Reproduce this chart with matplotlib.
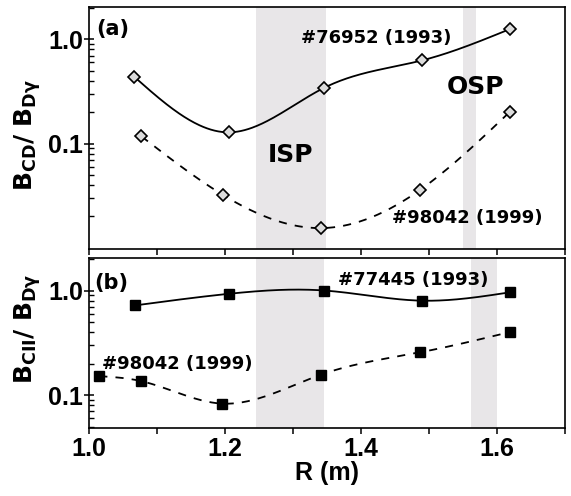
import numpy as np
import matplotlib
matplotlib.use("Agg")
import matplotlib.pyplot as plt
from matplotlib.ticker import LogLocator, NullFormatter, FixedLocator

# panel (a): B_CD / B_Dgamma
r_a_93 = [1.066, 1.205, 1.346, 1.490, 1.619]
v_a_93 = [0.44, 0.128, 0.344, 0.63, 1.26]
r_a_99 = [1.077, 1.197, 1.341, 1.487, 1.618]
v_a_99 = [0.117, 0.032, 0.0154, 0.036, 0.20]

# panel (b): B_CII / B_Dgamma
r_b_93 = [1.067, 1.205, 1.346, 1.489, 1.618]
v_b_93 = [0.72, 0.93, 1.0, 0.80, 0.96]
r_b_99 = [1.015, 1.077, 1.196, 1.341, 1.487, 1.618]
v_b_99 = [0.152, 0.136, 0.083, 0.157, 0.257, 0.40]

# strike point regions (R)
isp_a = [1.245, 1.348]
osp_a = [1.550, 1.569]
isp_b = [1.245, 1.345]
osp_b = [1.561, 1.599]

xticks = [1.0, 1.1, 1.2, 1.3, 1.4, 1.5, 1.6, 1.7]
xlabels = ["1.0", "", "1.2", "", "1.4", "", "1.6", ""]


def smooth(x, y, n=300):
    # natural cubic spline through the points, in log space
    x = np.asarray(x, float)
    ly = np.log10(y)
    m = len(x)
    h = np.diff(x)
    A = np.zeros((m, m))
    rhs = np.zeros(m)
    A[0, 0] = A[-1, -1] = 1
    for i in range(1, m - 1):
        A[i, i - 1] = h[i - 1]
        A[i, i] = 2 * (h[i - 1] + h[i])
        A[i, i + 1] = h[i]
        rhs[i] = 3 * ((ly[i + 1] - ly[i]) / h[i] - (ly[i] - ly[i - 1]) / h[i - 1])
    c = np.linalg.solve(A, rhs)
    b = (ly[1:] - ly[:-1]) / h - h * (2 * c[:-1] + c[1:]) / 3
    d = (c[1:] - c[:-1]) / (3 * h)
    xs = np.linspace(x[0], x[-1], n)
    idx = np.clip(np.searchsorted(x, xs) - 1, 0, m - 2)
    dx = xs - x[idx]
    ys = ly[idx] + b[idx] * dx + c[idx] * dx ** 2 + d[idx] * dx ** 3
    return xs, 10 ** ys


plt.rcParams["mathtext.fontset"] = "dejavusans"
tickfont = {"family": ["Liberation Sans", "DejaVu Sans"], "weight": "bold", "size": 18}
notefont = {"family": "DejaVu Sans", "weight": "bold", "size": 13}
panelfont = {"family": "DejaVu Sans", "weight": "bold", "size": 15}
shade = "#e8e6e8"

fig = plt.figure(figsize=(5.71, 4.96), dpi=100)
ax1 = fig.add_axes([0.156, 0.498, 0.834, 0.488])
ax2 = fig.add_axes([0.156, 0.138, 0.834, 0.342])

# ---- panel (a)
ax1.axvspan(*isp_a, color=shade, lw=0, zorder=0)
ax1.axvspan(*osp_a, color=shade, lw=0, zorder=0)
xs, ys = smooth(r_a_93, v_a_93)
ax1.plot(xs, ys, "k-", lw=1.3, zorder=2)
xs, ys = smooth(r_a_99, v_a_99)
ax1.plot(xs, ys, "k", lw=1.3, dashes=(4.5, 4.5), zorder=2)
ax1.plot(r_a_93, v_a_93, "D", ms=6.5, mfc="#dcdcdc", mec="k", mew=1.2, ls="none", zorder=3)
ax1.plot(r_a_99, v_a_99, "D", ms=6.5, mfc="#dcdcdc", mec="k", mew=1.2, ls="none", zorder=3)
ax1.set_ylim(0.0097, 2.05)

ax1.text(1.010, 1.26, "(a)", va="center", ha="left", **panelfont)
ax1.text(1.312, 1.03, "#76952 (1993)", va="center", ha="left", **notefont)
ax1.text(1.526, 0.348, "OSP", va="center", ha="left", family="DejaVu Sans", weight="bold", size=18)
ax1.text(1.263, 0.077, "ISP", va="center", ha="left", family="DejaVu Sans", weight="bold", size=18)
ax1.text(1.445, 0.0191, "#98042 (1999)", va="center", ha="left", **notefont)
ax1.set_ylabel(r"$\mathbf{B_{CD}/\ B_{D\gamma}}$", fontsize=18)
ax1.yaxis.set_label_coords(-0.097, 0.47)

# ---- panel (b)
ax2.axvspan(*isp_b, color=shade, lw=0, zorder=0)
ax2.axvspan(*osp_b, color=shade, lw=0, zorder=0)
xs, ys = smooth(r_b_93, v_b_93)
ax2.plot(xs, ys, "k-", lw=1.3, zorder=2)
xs, ys = smooth(r_b_99, v_b_99)
ax2.plot(xs, ys, "k", lw=1.3, dashes=(4.5, 4.5), zorder=2)
ax2.plot(r_b_93, v_b_93, "s", ms=7.5, color="k", ls="none", zorder=3)
ax2.plot(r_b_99, v_b_99, "s", ms=7.5, color="k", ls="none", zorder=3)
ax2.set_ylim(0.049, 2.05)

ax2.text(1.008, 1.19, "(b)", va="center", ha="left", **panelfont)
ax2.text(1.366, 1.25, "#77445 (1993)", va="center", ha="left", **notefont)
ax2.text(1.019, 0.20, "#98042 (1999)", va="center", ha="left", **notefont)
ax2.set_ylabel(r"$\mathbf{B_{CII}/\ B_{D\gamma}}$", fontsize=18)
ax2.yaxis.set_label_coords(-0.097, 0.58)
ax2.set_xlabel("R (m)", fontdict=tickfont, labelpad=0)

for ax in (ax1, ax2):
    ax.set_yscale("log")
    ax.set_xlim(1.0, 1.7)
    ax.xaxis.set_major_locator(FixedLocator(xticks))
    ax.yaxis.set_major_locator(FixedLocator([0.1, 1.0]))
    ax.yaxis.set_minor_locator(LogLocator(base=10, subs=np.arange(2, 10)))
    ax.yaxis.set_minor_formatter(NullFormatter())
    ax.set_yticklabels(["0.1", "1.0"], fontdict=tickfont)
    ax.tick_params(axis="x", direction="out", length=4, width=1.1, top=False)
    ax.tick_params(axis="y", which="major", direction="inout", length=7, width=1.1, pad=1, right=False)
    ax.tick_params(axis="y", which="minor", direction="in", length=3.5, width=1.0, right=False)
    for s in ax.spines.values():
        s.set_linewidth(1.2)

ax1.set_xticklabels([])
ax2.set_xticklabels(xlabels, fontdict=tickfont)
ax2.tick_params(axis="x", pad=3)

fig.savefig("out.png", dpi=100)
